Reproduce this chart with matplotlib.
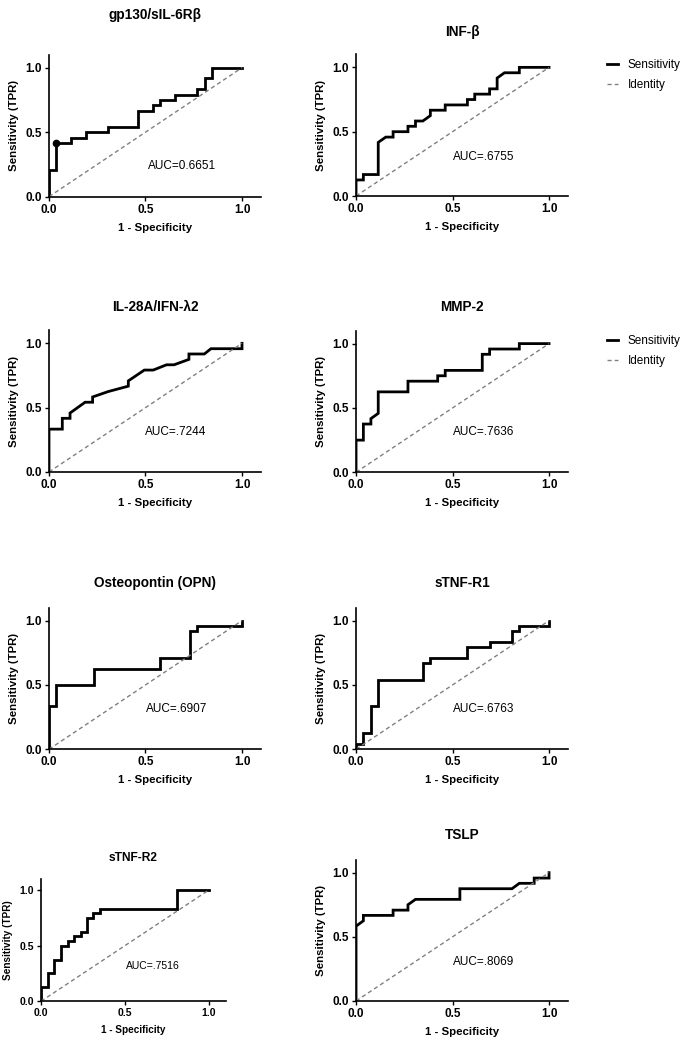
import matplotlib
matplotlib.use("Agg")
import matplotlib.pyplot as plt

plt.rcParams['font.family'] = ['Liberation Sans', 'DejaVu Sans']

# curvas ROC (1 - especificidad, sensibilidad)
gp130_fpr = [0, 0, 0.038, 0.038, 0.115, 0.115, 0.192, 0.192, 0.308, 0.308, 0.462, 0.462,
             0.538, 0.538, 0.577, 0.577, 0.654, 0.654, 0.769, 0.769, 0.808, 0.808, 0.846, 0.846, 1.0]
gp130_tpr = [0, 0.208, 0.208, 0.417, 0.417, 0.458, 0.458, 0.5, 0.5, 0.542, 0.542, 0.667,
             0.667, 0.708, 0.708, 0.75, 0.75, 0.792, 0.792, 0.833, 0.833, 0.917, 0.917, 1.0, 1.0]

infb_fpr = [0, 0, 0.038, 0.038, 0.115, 0.115, 0.154, 0.192, 0.192, 0.269, 0.269, 0.308, 0.308,
            0.346, 0.385, 0.385, 0.462, 0.462, 0.577, 0.577, 0.615, 0.615, 0.692, 0.692,
            0.731, 0.731, 0.769, 0.846, 0.846, 1.0]
infb_tpr = [0, 0.125, 0.125, 0.167, 0.167, 0.417, 0.458, 0.458, 0.5, 0.5, 0.542, 0.542, 0.583,
            0.583, 0.625, 0.667, 0.667, 0.708, 0.708, 0.75, 0.75, 0.792, 0.792, 0.833,
            0.833, 0.917, 0.958, 0.958, 1.0, 1.0]

il28_fpr = [0, 0, 0.069, 0.069, 0.109, 0.109, 0.187, 0.226, 0.226, 0.307, 0.411, 0.411, 0.494,
            0.54, 0.609, 0.648, 0.725, 0.725, 0.805, 0.839, 1.0, 1.0]
il28_tpr = [0, 0.333, 0.333, 0.417, 0.417, 0.458, 0.542, 0.542, 0.583, 0.625, 0.667, 0.708, 0.792,
            0.792, 0.833, 0.833, 0.875, 0.917, 0.917, 0.958, 0.958, 1.0]

mmp2_fpr = [0, 0, 0.038, 0.038, 0.077, 0.077, 0.115, 0.115, 0.269, 0.269, 0.423, 0.423, 0.462,
            0.462, 0.654, 0.654, 0.692, 0.692, 0.846, 0.846, 1.0]
mmp2_tpr = [0, 0.25, 0.25, 0.375, 0.375, 0.417, 0.458, 0.625, 0.625, 0.708, 0.708, 0.75, 0.75,
            0.792, 0.792, 0.917, 0.917, 0.958, 0.958, 1.0, 1.0]

opn_fpr = [0, 0, 0.035, 0.035, 0.231, 0.231, 0.577, 0.577, 0.731, 0.731, 0.769, 0.769, 1.0, 1.0]
opn_tpr = [0, 0.333, 0.333, 0.5, 0.5, 0.625, 0.625, 0.708, 0.708, 0.917, 0.917, 0.958, 0.958, 1.0]

tnfr1_fpr = [0, 0, 0.038, 0.038, 0.077, 0.077, 0.115, 0.115, 0.346, 0.346, 0.385, 0.385, 0.577,
             0.577, 0.692, 0.692, 0.808, 0.808, 0.846, 0.846, 1.0, 1.0]
tnfr1_tpr = [0, 0.042, 0.042, 0.125, 0.125, 0.333, 0.333, 0.542, 0.542, 0.667, 0.667, 0.708, 0.708,
             0.792, 0.792, 0.833, 0.833, 0.917, 0.917, 0.958, 0.958, 1.0]

tnfr2_fpr = [0, 0, 0.042, 0.042, 0.079, 0.079, 0.119, 0.119, 0.159, 0.159, 0.196, 0.196, 0.236,
             0.236, 0.272, 0.272, 0.312, 0.312, 0.351, 0.351, 0.812, 0.812, 1.0]
tnfr2_tpr = [0, 0.125, 0.125, 0.25, 0.25, 0.375, 0.375, 0.5, 0.5, 0.542, 0.542, 0.583, 0.583,
             0.625, 0.625, 0.75, 0.75, 0.792, 0.792, 0.833, 0.833, 1.0, 1.0]

tslp_fpr = [0, 0, 0.038, 0.038, 0.192, 0.192, 0.269, 0.269, 0.308, 0.538, 0.538, 0.808, 0.846,
            0.923, 0.923, 1.0, 1.0]
tslp_tpr = [0, 0.583, 0.625, 0.667, 0.667, 0.708, 0.708, 0.75, 0.792, 0.792, 0.875, 0.875, 0.917,
            0.917, 0.958, 0.958, 1.0]

titulos = ["gp130/sIL-6R\u03b2", "INF-\u03b2", "IL-28A/IFN-\u03bb2", "MMP-2",
           "Osteopontin (OPN)", "sTNF-R1", "sTNF-R2", "TSLP"]
auc_textos = ["AUC=0.6651", "AUC=.6755", "AUC=.7244", "AUC=.7636",
              "AUC=.6907", "AUC=.6763", "AUC=.7516", "AUC=.8069"]
curvas = [(gp130_fpr, gp130_tpr), (infb_fpr, infb_tpr), (il28_fpr, il28_tpr), (mmp2_fpr, mmp2_tpr),
          (opn_fpr, opn_tpr), (tnfr1_fpr, tnfr1_tpr), (tnfr2_fpr, tnfr2_tpr), (tslp_fpr, tslp_tpr)]

# posicion de cada panel en fraccion de figura [izq, abajo, ancho, alto]
posiciones = [
    [0.071, 0.8127, 0.3077, 0.1351],
    [0.516, 0.8133, 0.3077, 0.1348],
    [0.071, 0.5505, 0.3077, 0.1348],
    [0.516, 0.5502, 0.3077, 0.1348],
    [0.071, 0.2864, 0.3077, 0.1348],
    [0.516, 0.2864, 0.3077, 0.1348],
    [0.0594, 0.0464, 0.2678, 0.1166],
    [0.516, 0.0467, 0.3077, 0.1344],
]
titulo_y = [1.28, 1.158, 1.167, 1.167, 1.175, 1.175, 1.171, 1.176]
auc_pos = [(0.69, 0.24), (0.663, 0.305), (0.658, 0.31), (0.663, 0.31),
           (0.66, 0.313), (0.663, 0.31), (0.668, 0.32), (0.663, 0.306)]

fig = plt.figure(figsize=(6.9, 10.5), dpi=100)

for i in range(8):
    ax = fig.add_axes(posiciones[i])
    escala = 0.88 if i == 6 else 1.0
    fpr, tpr = curvas[i]

    ax.plot(fpr, tpr, color='black', linewidth=2.0, label='Sensitivity', solid_joinstyle='miter')
    ax.plot([0, 1], [0, 1], color='#808080', linestyle=(0, (3, 2.2)), linewidth=1.0, label='Identity')
    if i == 0:
        ax.plot([0.038], [0.417], 'o', color='black', markersize=4.5)

    ax.set_xlim(0, 1.1)
    ax.set_ylim(0, 1.1)
    ax.set_xticks([0, 0.5, 1.0])
    ax.set_yticks([0, 0.5, 1.0])
    ax.set_xticklabels(["0.0", "0.5", "1.0"], fontweight='bold', fontsize=8.5 * escala)
    ax.set_yticklabels(["0.0", "0.5", "1.0"], fontweight='bold', fontsize=8.5 * escala)
    ax.tick_params(direction='out', length=3, width=1.0, pad=2)
    for lado in ['top', 'right']:
        ax.spines[lado].set_visible(False)
    for lado in ['left', 'bottom']:
        ax.spines[lado].set_linewidth(1.2)

    ax.set_xlabel("1 - Specificity", fontweight='bold', fontsize=8.2 * escala, labelpad=5)
    ax.set_ylabel("Sensitivity (TPR)", fontweight='bold', fontsize=8.2 * escala, labelpad=5)

    ax.text(0.5, titulo_y[i], titulos[i], transform=ax.transAxes, ha='center', va='center',
            fontweight='bold', fontsize=9.8 * escala)
    ax.text(auc_pos[i][0], auc_pos[i][1], auc_textos[i], ha='center', va='center',
            fontsize=8.5 * escala)

    if i in (1, 3):
        ax.legend(loc='upper left', bbox_to_anchor=(1.13, 1.045), frameon=False, fontsize=8.5,
                  handlelength=1.0, handletextpad=0.8, labelspacing=0.7)

plt.savefig("out.png", dpi=100)
plt.close()
